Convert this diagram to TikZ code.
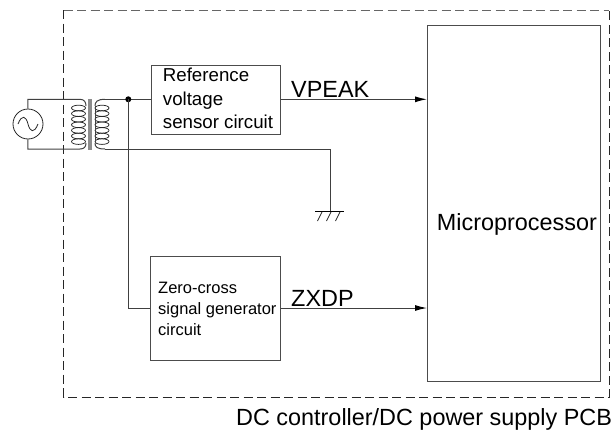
\documentclass[tikz,border=0pt]{standalone}
\usepackage{fontspec}
\setmainfont{Liberation Sans}
\usetikzlibrary{arrows.meta}
\tikzset{
 wire/.style={draw=black!75,line width=1pt},
 blk/.style={draw=black!70,line width=1pt,fill=white,inner sep=0pt,anchor=north west},
 coilloop/.style={draw=black!85,line width=0.75pt},
 lab/.style={inner sep=0pt,align=left,anchor=base west},
 arr/.style={wire,-{Latex[length=12pt,width=6pt,color=black]}},
 small/.style={lab,font=\fontsize{18.7pt}{21pt}\selectfont},
 smaller/.style={lab,font=\fontsize{16.5pt}{19pt}\selectfont},
 big/.style={lab,font=\fontsize{23.4pt}{26pt}\selectfont},
 pcbline/.style={line width=0.9pt,dash pattern=on 9pt off 4.5pt}
}
\begin{document}
\begin{tikzpicture}[x=1pt,y=-1pt]
\useasboundingbox (0,0) rectangle (613,431);
% PCB outline
\coordinate (tl) at (63.7,10); \coordinate (tr) at (609.3,10);
\coordinate (bl) at (63.7,397); \coordinate (br) at (609.3,397);
\draw[pcbline,black!60] (tl) -- (tr);
\draw[pcbline,black!85] (tl) -- (bl) -- (br) -- (tr);
% Nodes
\node[blk,minimum width=129.3pt,minimum height=69.3pt] (ref) at (150.7,64.7) {};
\node[blk,minimum width=129.7pt,minimum height=104pt] (zero) at (150.3,256) {};
\node[blk,minimum width=173pt,minimum height=356pt] (mcu) at (427,25) {};
\node[small] at (162.7,81.7) {Reference};
\node[small] at (162.7,105) {voltage};
\node[small] at (162.7,128.7) {sensor circuit};
\node[smaller] at (158,293) {Zero-cross};
\node[smaller] at (158,314) {signal generator};
\node[smaller] at (158,335) {circuit};
\node[big] (mp) at (436.7,230.7) {Microprocessor};
\node[big] (vp) at (291,97) {VPEAK};
\node[big] (zx) at (291,306) {ZXDP};
\node[big] (pcb) at (236,425) {DC controller/DC power supply PCB};
% Source
\node[circle,draw=black!85,line width=0.8pt,minimum size=30pt,inner sep=0pt] (src) at (28,124) {};
\draw[black!85,line width=0.8pt] (18,124) .. controls (22,114) and (26,116) .. (28,124) .. controls (30,132) and (34,134) .. (38,124);
% Transformer
\coordinate (pt) at (80,99.3); \coordinate (pb) at (80,149);
\coordinate (st) at (105,99.3); \coordinate (sb) at (105,149);
\coordinate (dotc) at (128.3,99.3);
\coordinate (gnd) at (330,211);
\draw[wire] (src.north) -- (27.9,99.3) -- (pt) .. controls (84,99.3) and (86,102) .. (86,106);
\draw[wire] (src.south) -- (27.9,149) -- (pb) .. controls (84,149) and (86,147) .. (86,143);
\foreach \k in {0,...,6} {
  \draw[coilloop] (78.5,{108+5.6*\k}) ellipse (7pt and 2.8pt);
  \draw[coilloop] (102,{108+5.6*\k}) ellipse (7pt and 2.8pt);
}
\draw[wire] (95,106) .. controls (95,102) and (97,99.3) .. (st);
\draw[wire] (95,106) -- (95,143);
\draw[wire] (95,143) .. controls (95,147) and (97,149) .. (sb);
\fill[black!45] (88,99) rectangle (92,150);
% Wires
\draw[wire] (st) -- (dotc) -- (ref.west |- dotc);
\fill (dotc) circle (3pt);
\draw[wire] (dotc) -- (128.3,308) -- (zero.west |- 0,308);
\draw[wire] (sb) -- (330,149) -- (gnd);
% Ground
\draw[black,line width=1pt] (315,211) -- (344,211);
\foreach \dx in {-9,0,9} \draw[black!85,line width=0.75pt] ({331+\dx},212) -- ({331+\dx-4.5},221);
% Signals
\draw[arr] (ref.east |- dotc) -- (mcu.west |- dotc);
\draw[arr] (zero.east |- 0,308) -- (mcu.west |- 0,308);
\end{tikzpicture}
\end{document}
